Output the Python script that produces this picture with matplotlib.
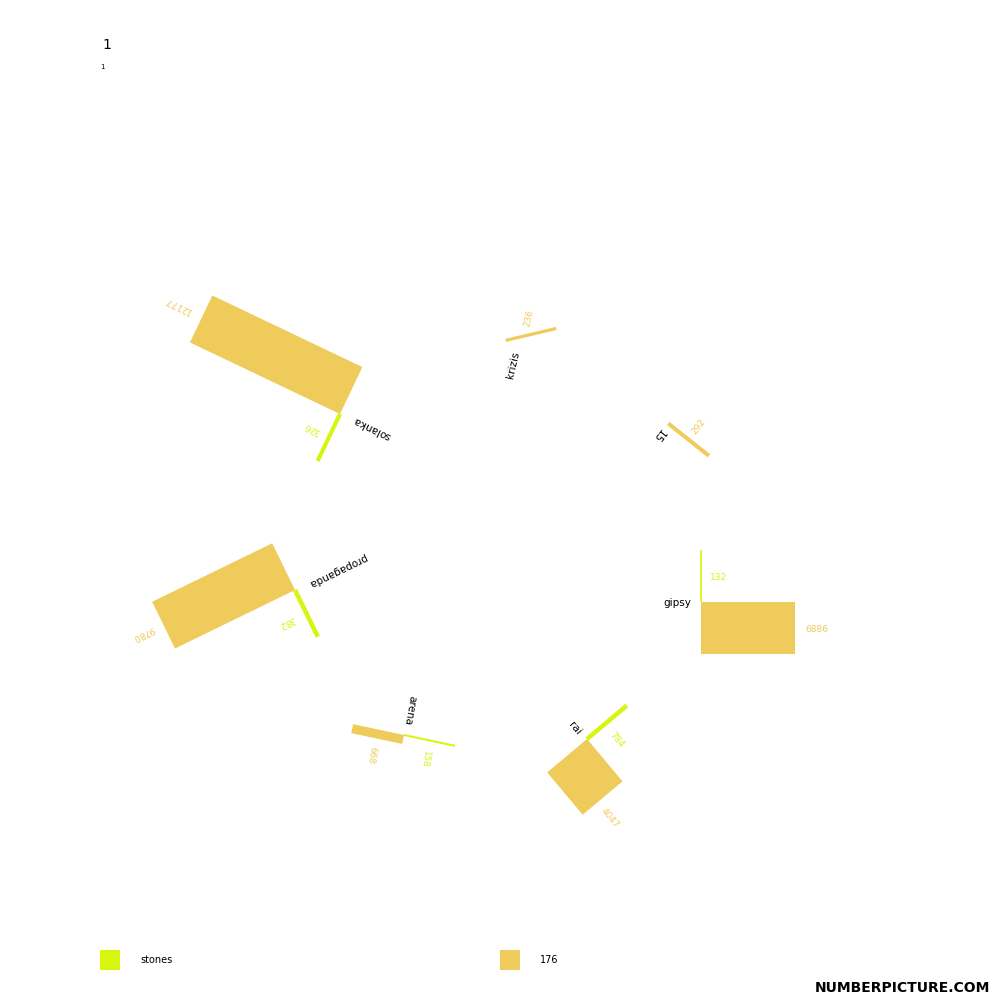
import numpy as np
import matplotlib
matplotlib.use("Agg")
import matplotlib.pyplot as plt
from matplotlib.patches import Polygon

GREEN = "#d6f50f"
ORANGE = "#eecb5a"

names = ["solanka", "propaganda", "gipsy", "arena", "rai", "krizis", "15"]
orange_vals = [12177, 9780, 6886, 668, 4047, 236, 292]
green_vals = [326, 382, 132, 158, 784, 0, 0]

# layout: anchor point (pixels) and direction angle of the green stem
anchors = [(340, 414), (295, 590), (701, 602), (404, 735), (587, 739), (506, 342), (667, 425)]
angles = [-115.5, -64, 90, -12, 40, -166.7, 141.5]

# label positions / rotations: (name, orange value, green value)
name_pos = [(372, 428, 154), (337, 570, 206), (677, 603, 0), (410, 710, -100), (575, 728, -50), (513, 365, 77), (658, 435, -128)]
oval_pos = [(178, 305, 154), (143, 633, 206), (817, 630, 0), (371, 755, -100), (610, 818, -50), (529, 318, 77), (699, 427, 52)]
gval_pos = [(312, 428, 154), (287, 622, 206), (719, 577, 0), (425, 759, -100), (617, 740, -50), None, None]

SIDE = 52
SCALE = 0.71

fig = plt.figure(figsize=(10, 10), dpi=100)
ax = fig.add_axes([0, 0, 1, 1])
ax.set_xlim(0, 1000)
ax.set_ylim(1000, 0)
ax.axis("off")

for i, name in enumerate(names):
    p = np.array(anchors[i], float)
    a = np.radians(angles[i])
    g = np.array([np.cos(a), -np.sin(a)])
    L = np.array([-g[1], g[0]])
    length = SCALE * orange_vals[i] / SIDE
    pts = [p, p - g * SIDE, p - g * SIDE + L * length, p + L * length]
    ax.add_patch(Polygon(pts, closed=True, color=ORANGE, lw=0))
    if green_vals[i]:
        w = max(1.5, min(4.5, green_vals[i] / 80))
        q = p + g * SIDE
        ax.plot([p[0], q[0]], [p[1], q[1]], color=GREEN, lw=w * 0.72, solid_capstyle="butt")
    x, y, r = name_pos[i]
    ax.text(x, y, name, rotation=r, ha="center", va="center", fontsize=7.5, color="black")
    x, y, r = oval_pos[i]
    ax.text(x, y, str(orange_vals[i]), rotation=r, ha="center", va="center", fontsize=6.5, color=ORANGE)
    if gval_pos[i]:
        x, y, r = gval_pos[i]
        ax.text(x, y, str(green_vals[i]), rotation=r, ha="center", va="center", fontsize=6.5, color=GREEN)

ax.text(102, 45, "1", fontsize=10, ha="left", va="center")
ax.text(100, 67, "1", fontsize=5, ha="left", va="center")

ax.add_patch(plt.Rectangle((100, 950), 20, 20, color=GREEN, lw=0))
ax.text(140, 960, "stones", fontsize=7, va="center")
ax.add_patch(plt.Rectangle((500, 950), 20, 20, color=ORANGE, lw=0))
ax.text(540, 960, "176", fontsize=7, va="center")
ax.text(990, 988, "NUMBERPICTURE.COM", fontsize=10, fontweight="bold", ha="right", va="center")

fig.savefig("out.png", dpi=100)
